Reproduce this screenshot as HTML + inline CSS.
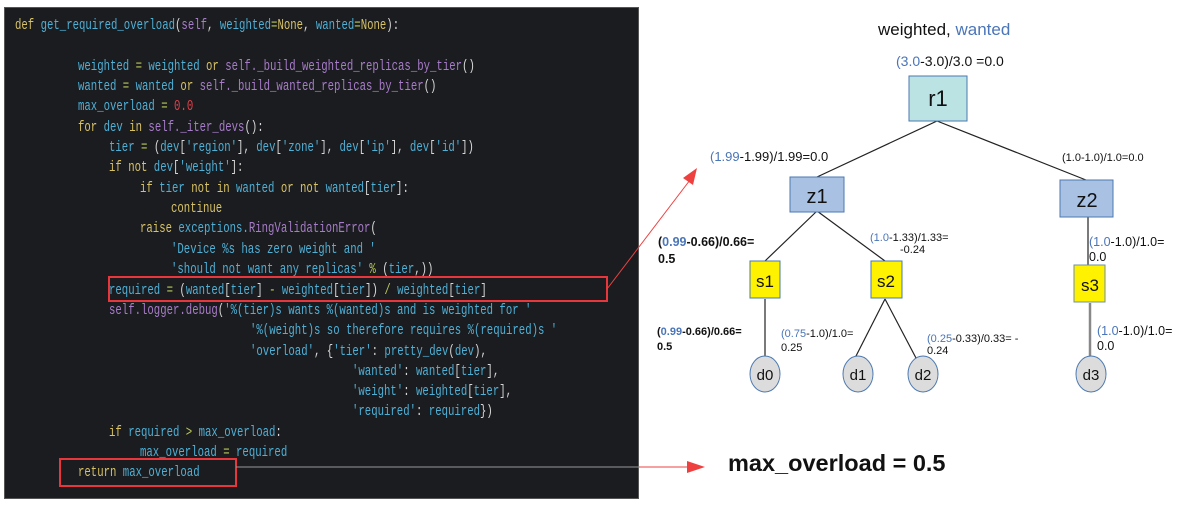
<!DOCTYPE html>
<html><head><meta charset="utf-8"><style>
body{margin:0;width:1183px;height:510px;background:#fff;position:relative;overflow:hidden;font-family:"Liberation Sans",sans-serif}
#code{position:absolute;left:4px;top:7px;width:635px;height:492px;background:#1b1c1f;border:1px solid #555;box-sizing:border-box}
.l{position:absolute;font-family:"Liberation Mono",monospace;font-size:15px;transform:scaleX(0.711);transform-origin:0 0;white-space:pre;color:#4fb0d6;line-height:16px;margin-top:2px}
.k{color:#d8c266}.p{color:#a77cc9}.w{color:#d8d8d8}.r{color:#e0404a}.o{color:#b8c95a}
.t{position:absolute;white-space:nowrap;color:#111}
.b{color:#4a75b8}
</style></head><body>
<div id="code"></div>
<div class="l" style="left:15px;top:16px"><span class="k">def</span> get_required_overload<span class="w">(</span><span class="p">self</span><span class="w">,</span> weighted<span class="o">=</span><span class="k">None</span><span class="w">,</span> wanted<span class="o">=</span><span class="k">None</span><span class="w">):</span></div>
<div class="l" style="left:78px;top:57px">weighted <span class="o">=</span> weighted <span class="k">or</span> <span class="p">self._build_weighted_replicas_by_tier</span><span class="w">()</span></div>
<div class="l" style="left:78px;top:77px">wanted <span class="o">=</span> wanted <span class="k">or</span> <span class="p">self._build_wanted_replicas_by_tier</span><span class="w">()</span></div>
<div class="l" style="left:78px;top:97px">max_overload <span class="o">=</span> <span class="r">0.0</span></div>
<div class="l" style="left:78px;top:118px"><span class="k">for</span> dev <span class="k">in</span> <span class="p">self._iter_devs</span><span class="w">():</span></div>
<div class="l" style="left:109px;top:138px">tier <span class="o">=</span> <span class="w">(</span>dev<span class="w">[</span>'region'<span class="w">],</span> dev<span class="w">[</span>'zone'<span class="w">],</span> dev<span class="w">[</span>'ip'<span class="w">],</span> dev<span class="w">[</span>'id'<span class="w">])</span></div>
<div class="l" style="left:109px;top:158px"><span class="k">if not</span> dev<span class="w">[</span>'weight'<span class="w">]:</span></div>
<div class="l" style="left:140px;top:179px"><span class="k">if</span> tier <span class="k">not in</span> wanted <span class="k">or not</span> wanted<span class="w">[</span>tier<span class="w">]:</span></div>
<div class="l" style="left:171px;top:199px"><span class="k">continue</span></div>
<div class="l" style="left:140px;top:219px"><span class="k">raise</span> exceptions.<span class="p">RingValidationError</span><span class="w">(</span></div>
<div class="l" style="left:171px;top:240px">'Device %s has zero weight and '</div>
<div class="l" style="left:171px;top:260px">'should not want any replicas' <span class="o">%</span> <span class="w">(</span>tier<span class="w">,))</span></div>
<div class="l" style="left:109px;top:281px">required <span class="o">=</span> <span class="w">(</span>wanted<span class="w">[</span>tier<span class="w">]</span> <span class="o">-</span> weighted<span class="w">[</span>tier<span class="w">])</span> <span class="o">/</span> weighted<span class="w">[</span>tier<span class="w">]</span></div>
<div class="l" style="left:109px;top:301px"><span class="p">self.logger.debug</span><span class="w">(</span>'%(tier)s wants %(wanted)s and is weighted for '</div>
<div class="l" style="left:250px;top:321px">'%(weight)s so therefore requires %(required)s '</div>
<div class="l" style="left:250px;top:342px">'overload'<span class="w">, {</span>'tier'<span class="w">:</span> pretty_dev<span class="w">(</span>dev<span class="w">),</span></div>
<div class="l" style="left:352px;top:362px">'wanted'<span class="w">:</span> wanted<span class="w">[</span>tier<span class="w">],</span></div>
<div class="l" style="left:352px;top:382px">'weight'<span class="w">:</span> weighted<span class="w">[</span>tier<span class="w">],</span></div>
<div class="l" style="left:352px;top:402px">'required'<span class="w">:</span> required<span class="w">})</span></div>
<div class="l" style="left:109px;top:423px"><span class="k">if</span> required <span class="o">&gt;</span> max_overload<span class="w">:</span></div>
<div class="l" style="left:140px;top:443px">max_overload <span class="o">=</span> required</div>
<div class="l" style="left:78px;top:463px"><span class="k">return</span> max_overload</div>

<svg width="1183" height="510" style="position:absolute;left:0;top:0">
<rect x="109" y="277" width="498" height="24" fill="none" stroke="#e8373c" stroke-width="2"/>
<rect x="60" y="459" width="176" height="27" fill="none" stroke="#e8373c" stroke-width="2"/>
<line x1="607" y1="289" x2="690" y2="180" stroke="#ef4040" stroke-width="1"/>
<polygon points="697,168 683,178 693,185" fill="#ef4040"/>
<line x1="236" y1="467" x2="639" y2="467" stroke="#999" stroke-width="1"/>
<line x1="639" y1="467" x2="690" y2="467" stroke="#ef4040" stroke-width="1"/>
<polygon points="705,467 687,461 687,473" fill="#ef4040"/>
<g stroke="#222" stroke-width="1.2" fill="none">
<line x1="937" y1="121" x2="817" y2="177"/>
<line x1="937" y1="121" x2="1086" y2="180"/>
<line x1="817" y1="211" x2="765" y2="261"/>
<line x1="817" y1="211" x2="885" y2="261"/>
<line x1="765" y1="299" x2="765" y2="357"/>
<line x1="885" y1="299" x2="855" y2="358"/>
<line x1="885" y1="299" x2="916" y2="358"/>
<line x1="1088" y1="217" x2="1088" y2="265"/>
</g>
<line x1="1090" y1="303" x2="1090" y2="357" stroke="#888" stroke-width="2.5"/>
<rect x="909" y="76" width="58" height="45" fill="#bce3e3" stroke="#4a78b0"/>
<rect x="790" y="177" width="54" height="35" fill="#a9c2e4" stroke="#4a78b0"/>
<rect x="1060" y="180" width="53" height="37" fill="#a9c2e4" stroke="#4a78b0"/>
<rect x="750" y="261" width="30" height="37" fill="#fff200" stroke="#4a78b0"/>
<rect x="871" y="261" width="31" height="37" fill="#fff200" stroke="#4a78b0"/>
<rect x="1074" y="265" width="31" height="37" fill="#fff200" stroke="#6f8fa0"/>
<g fill="#dcdcdc" stroke="#4a78b0">
<ellipse cx="765" cy="374" rx="15" ry="18"/>
<ellipse cx="858" cy="374" rx="15" ry="18"/>
<ellipse cx="923" cy="374" rx="15" ry="18"/>
<ellipse cx="1091" cy="374" rx="15" ry="18"/>
</g>
<g font-family="Liberation Sans, sans-serif" fill="#111" text-anchor="middle">
<text x="938" y="106" font-size="22">r1</text>
<text x="817" y="203" font-size="20">z1</text>
<text x="1087" y="207" font-size="20">z2</text>
<text x="765" y="287" font-size="17">s1</text>
<text x="886" y="287" font-size="17">s2</text>
<text x="1090" y="291" font-size="17">s3</text>
<text x="765" y="380" font-size="15">d0</text>
<text x="858" y="380" font-size="15">d1</text>
<text x="923" y="380" font-size="15">d2</text>
<text x="1091" y="380" font-size="15">d3</text>
</g>
</svg>
<div class="t" style="left:878px;top:20px;font-size:17px">weighted, <span class="b">wanted</span></div>
<div class="t" style="left:896px;top:53px;font-size:14px"><span class="b">(3.0</span>-3.0)/3.0 =0.0</div>
<div class="t" style="left:710px;top:149px;font-size:13px"><span class="b">(1.99</span>-1.99)/1.99=0.0</div>
<div class="t" style="left:1062px;top:152px;font-size:11px">(1.0-1.0)/1.0=0.0</div>
<div class="t" style="left:658px;top:234px;font-size:12.5px;font-weight:bold;line-height:17px">(<span class="b">0.99</span>-0.66)/0.66=<br>0.5</div>
<div class="t" style="left:870px;top:232px;font-size:11px;line-height:12px"><span class="b">(1.0</span>-1.33)/1.33=<br><span style="margin-left:30px">-0.24</span></div>
<div class="t" style="left:1089px;top:235px;font-size:12.5px;line-height:15px"><span class="b">(1.0</span>-1.0)/1.0=<br>0.0</div>
<div class="t" style="left:657px;top:325px;font-size:11px;font-weight:bold;line-height:15px">(<span class="b">0.99</span>-0.66)/0.66=<br>0.5</div>
<div class="t" style="left:781px;top:327px;font-size:11px;line-height:14px"><span class="b">(0.75</span>-1.0)/1.0=<br>0.25</div>
<div class="t" style="left:927px;top:333px;font-size:11px;line-height:12px"><span class="b">(0.25</span>-0.33)/0.33= -<br>0.24</div>
<div class="t" style="left:1097px;top:324px;font-size:12.5px;line-height:15px"><span class="b">(1.0</span>-1.0)/1.0=<br>0.0</div>
<div class="t" style="left:728px;top:450px;font-size:23.5px;font-weight:bold">max_overload = 0.5</div>
</body></html>
